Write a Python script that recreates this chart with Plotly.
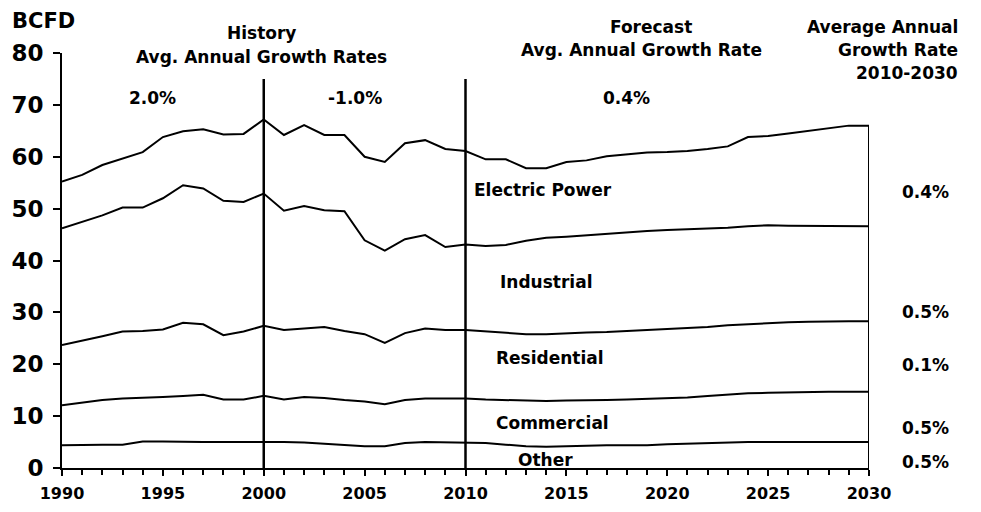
import plotly.graph_objects as go

FONT = "DejaVu Sans"

years = list(range(1990, 2031))

other = [4.4, 4.5, 4.5, 4.5, 5.1, 5.1, 5.0, 5.0, 5.0, 5.0, 5.1, 5.0, 4.9, 4.7, 4.4, 4.2, 4.2, 4.8, 5.0, 4.9, 4.9,
         4.8, 4.5, 4.2, 4.1, 4.2, 4.4, 4.4, 4.4, 4.4, 4.6, 4.7, 4.9, 5.0, 5.0, 5.0, 5.0, 5.0, 5.0, 5.0, 5.0]
commercial = [7.7, 8.1, 8.6, 8.9, 8.4, 8.6, 8.9, 9.1, 8.2, 8.2, 8.8, 8.2, 8.8, 8.8, 8.7, 8.6, 8.1, 8.3, 8.4, 8.5, 8.5,
              8.4, 8.6, 8.7, 8.8, 8.8, 8.6, 8.7, 8.8, 8.9, 8.8, 8.9, 9.0, 9.2, 9.4, 9.5, 9.6, 9.6, 9.7, 9.7, 9.7]
residential = [11.6, 11.9, 12.3, 12.9, 12.9, 13.0, 14.1, 13.6, 12.4, 13.1, 13.5, 13.4, 13.2, 13.7, 13.3, 13.0, 11.8,
               12.9, 13.5, 13.2, 13.2,
               13.1, 12.9, 12.9, 12.9, 13.0, 13.1, 13.1, 13.2, 13.2, 13.3, 13.3, 13.3, 13.3, 13.3, 13.5, 13.5, 13.6,
               13.6, 13.6, 13.6]
industrial = [22.5, 23.0, 23.3, 23.9, 23.8, 25.3, 26.5, 26.2, 25.9, 25.0, 25.5, 23.0, 23.6, 22.5, 23.1, 18.1, 17.8,
              18.1, 18.0, 16.0, 16.5,
              16.5, 17.0, 18.0, 18.6, 18.6, 18.8, 19.0, 19.0, 19.2, 19.2, 19.1, 18.9, 18.8, 18.9, 18.8, 18.6, 18.5,
              18.4, 18.3, 18.3]
electric = [9.0, 9.0, 9.7, 9.5, 10.7, 11.8, 10.4, 11.4, 12.8, 13.1, 14.3, 14.6, 15.6, 14.5, 14.7, 16.1, 17.1, 18.5,
            18.3, 18.9, 18.0,
            16.7, 16.5, 14.0, 13.4, 14.4, 14.4, 14.9, 15.1, 15.1, 15.0, 15.1, 15.4, 15.7, 17.2, 17.2, 17.8, 18.3,
            18.8, 19.4, 19.4]

sectors = ["Other", "Commercial", "Residential", "Industrial", "Electric Power"]
series = [other, commercial, residential, industrial, electric]
growth_labels = ["0.5%", "0.5%", "0.1%", "0.5%", "0.4%"]

# label positions (in data units) for sector names and right-hand growth rates
sector_label_pos = [(2012.5, 1.5), (2011.4, 8.7), (2011.4, 21.2), (2011.6, 35.8), (2010.3, 53.6)]
growth_label_y = [1.2, 7.7, 19.8, 30.1, 53.2]

period_rates = ["2.0%", "-1.0%", "0.4%"]
period_rate_x = [1994.5, 2004.5, 2018.0]

X_RANGE = [1990, 2030]
Y_RANGE = [0, 80]


def bold(t):
    return "<b>%s</b>" % t


fig = go.Figure()
for name, vals in zip(sectors, series):
    fig.add_scatter(
        x=years, y=vals, name=name, mode="lines", stackgroup="one",
        line=dict(color="black", width=2), fillcolor="rgba(0,0,0,0)",
    )

total_end = sum(s[-1] for s in series)

# history / forecast dividers and right-hand edge
for xv in [2000, 2010]:
    fig.add_shape(type="line", x0=xv, x1=xv, y0=0, y1=75, line=dict(color="black", width=2.5))
fig.add_shape(type="line", x0=years[-1], x1=years[-1], y0=0, y1=total_end, line=dict(color="black", width=2))

ann = []


def text(x, y, t, size=17, xanchor="center"):
    # paper coords so that labels outside the axes are not dropped
    xp = (x - X_RANGE[0]) / (X_RANGE[1] - X_RANGE[0])
    yp = (y - Y_RANGE[0]) / (Y_RANGE[1] - Y_RANGE[0])
    ann.append(dict(x=xp, y=yp, xref="paper", yref="paper", text=bold(t), showarrow=False,
                    xanchor=xanchor, yanchor="middle", font=dict(family=FONT, size=size, color="black")))


text(1989.1, 86.1, "BCFD", size=21)
text(1999.9, 83.8, "History")
text(1999.9, 79.2, "Avg. Annual Growth Rates")
text(2019.2, 85.0, "Forecast")
text(2018.7, 80.5, "Avg. Annual Growth Rate")
text(2034.5, 85.0, "Average Annual", xanchor="right")
text(2034.5, 80.5, "Growth Rate", xanchor="right")
text(2034.5, 76.1, "2010-2030", xanchor="right")
for xv, r in zip(period_rate_x, period_rates):
    text(xv, 71.4, r)
for (xv, yv), name in zip(sector_label_pos, sectors):
    text(xv, yv, name, xanchor="left")
for yv, g in zip(growth_label_y, growth_labels):
    text(2032.8, yv, g)

# page body adds an 8px offset, margins compensate
fig.update_layout(
    width=981, height=512,
    margin=dict(l=54, r=120, t=45, b=52),
    paper_bgcolor="white", plot_bgcolor="white",
    showlegend=False,
    annotations=ann,
    font=dict(family=FONT, color="black"),
)
fig.update_xaxes(
    range=X_RANGE, tickvals=list(range(1990, 2031, 5)),
    ticktext=[bold(y) for y in range(1990, 2031, 5)],
    ticks="outside", ticklen=6, tickwidth=1.5, tickcolor="black",
    minor=dict(dtick=1, ticks="outside", ticklen=5, tickwidth=1.5, tickcolor="black"),
    showline=True, linecolor="black", linewidth=2, showgrid=False, zeroline=False,
    tickfont=dict(family=FONT, size=16, color="black"), ticklabelstandoff=4, automargin=False,
)
fig.update_yaxes(
    range=Y_RANGE, tickvals=list(range(0, 81, 10)),
    ticktext=[bold(v) for v in range(0, 81, 10)],
    ticks="outside", ticklen=7, tickwidth=1.5, tickcolor="black",
    showline=True, linecolor="black", linewidth=2, showgrid=False, zeroline=False,
    tickfont=dict(family=FONT, size=23, color="black"), ticklabelstandoff=5, automargin=False,
)

fig.write_html("out.html")
